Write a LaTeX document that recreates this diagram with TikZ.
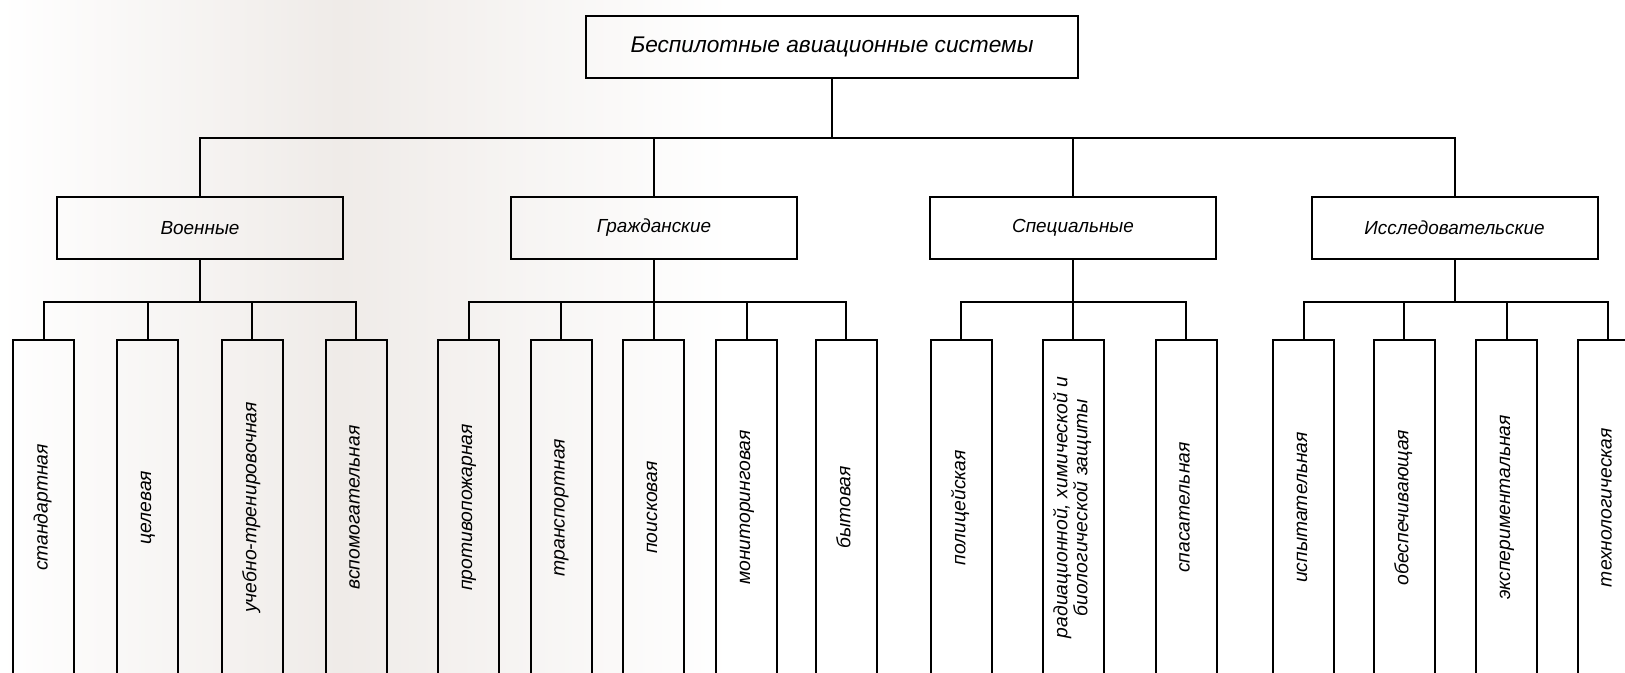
\documentclass[tikz,border=0pt]{standalone}
\usepackage{fontspec}
\setmainfont{Liberation Sans}
\definecolor{bgwarm}{RGB}{239,235,232}
\tikzset{every picture/.style={line width=0.75pt}}
\tikzset{
  rootbox/.style={draw, line width=1.5pt, inner sep=0pt, minimum width=369pt, minimum height=46.5pt, font=\fontsize{17}{20}\selectfont\itshape},
  catbox/.style={draw, line width=1.5pt, inner sep=0pt, minimum width=214.5pt, minimum height=46.5pt, font=\fontsize{14.2}{17}\selectfont\itshape},
  leafbox/.style={draw, line width=1.5pt, inner sep=0pt, minimum width=45.75pt, minimum height=251.25pt, font=\fontsize{14.5}{14}\selectfont\itshape},
  link/.style={line width=1.5pt}
}
\newcommand{\uptext}[1]{\rotatebox{90}{\begin{tabular}{@{}c@{}}#1\end{tabular}}}

\begin{document}
\begin{tikzpicture}[x=0.75pt,y=0.75pt,yscale=-1,xscale=1]
\useasboundingbox (0,0) rectangle (1625,673);
\clip (0,0) rectangle (1625,673);

%Background shading
\fill[white] (0,0) rectangle (1625,673);
\shade[left color=white, right color=bgwarm] (0,0) rectangle (340,673);
\shade[left color=bgwarm, right color=white] (340,0) rectangle (730,673);

% Text Node
\node[rootbox] (root) at (832,47) {Беспилотные авиационные системы};

% Text Node
\node[catbox] (mil) at (200,228) {Военные};
% Text Node
\node[catbox] (civ) at (654,228) {Гражданские};
% Text Node
\node[catbox] (spec) at (1073,228) {Специальные};
% Text Node
\node[catbox] (res) at (1454.5,228) {Исследовательские};

%Shape: Rectangle
\node[leafbox] (mil1) at (43.5,507.5) {\uptext{стандартная}};
\node[leafbox] (mil2) at (147.5,507.5) {\uptext{целевая}};
\node[leafbox] (mil3) at (252,507.5) {\uptext{учебно-тренировочная}};
\node[leafbox] (mil4) at (356,507.5) {\uptext{вспомогательная}};
%Shape: Rectangle
\node[leafbox] (civ1) at (468.5,507.5) {\uptext{противопожарная}};
\node[leafbox] (civ2) at (561,507.5) {\uptext{транспортная}};
\node[leafbox] (civ3) at (653.5,507.5) {\uptext{поисковая}};
\node[leafbox] (civ4) at (746.5,507.5) {\uptext{мониторинговая}};
\node[leafbox] (civ5) at (846,507.5) {\uptext{бытовая}};
%Shape: Rectangle
\node[leafbox] (spec1) at (961,507.5) {\uptext{полицейская}};
\node[leafbox] (spec2) at (1073,507.5) {\uptext{радиационной, химической и\\биологической защиты}};
\node[leafbox] (spec3) at (1186,507.5) {\uptext{спасательная}};
%Shape: Rectangle
\node[leafbox] (res1) at (1303.5,507.5) {\uptext{испытательная}};
\node[leafbox] (res2) at (1404,507.5) {\uptext{обеспечивающая}};
\node[leafbox] (res3) at (1506.5,507.5) {\uptext{экспериментальная}};
\node[leafbox] (res4) at (1608,507.5) {\uptext{технологическая}};

%Straight Lines
\draw[link] (root.south) -- ++(0,59) -| (mil.north);
\draw[link] (root.south) -- ++(0,59) -| (civ.north);
\draw[link] (root.south) -- ++(0,59) -| (spec.north);
\draw[link] (root.south) -- ++(0,59) -| (res.north);

%Straight Lines
\draw[link] (mil.south) -- ++(0,42.5) -| (mil1.north);
\draw[link] (mil.south) -- ++(0,42.5) -| (mil2.north);
\draw[link] (mil.south) -- ++(0,42.5) -| (mil3.north);
\draw[link] (mil.south) -- ++(0,42.5) -| (mil4.north);
%Straight Lines
\draw[link] (civ.south) -- ++(0,42.5) -| (civ1.north);
\draw[link] (civ.south) -- ++(0,42.5) -| (civ2.north);
\draw[link] (civ.south) -- ++(0,42.5) -| (civ3.north);
\draw[link] (civ.south) -- ++(0,42.5) -| (civ4.north);
\draw[link] (civ.south) -- ++(0,42.5) -| (civ5.north);
%Straight Lines
\draw[link] (spec.south) -- ++(0,42.5) -| (spec1.north);
\draw[link] (spec.south) -- ++(0,42.5) -| (spec2.north);
\draw[link] (spec.south) -- ++(0,42.5) -| (spec3.north);
%Straight Lines
\draw[link] (res.south) -- ++(0,42.5) -| (res1.north);
\draw[link] (res.south) -- ++(0,42.5) -| (res2.north);
\draw[link] (res.south) -- ++(0,42.5) -| (res3.north);
\draw[link] (res.south) -- ++(0,42.5) -| (res4.north);

\end{tikzpicture}
\end{document}
